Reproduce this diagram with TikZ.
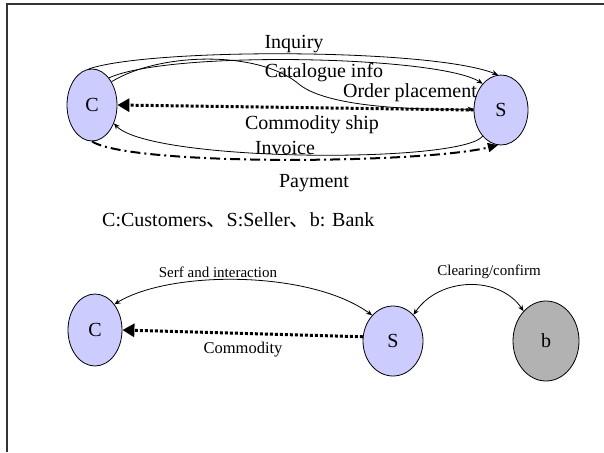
\documentclass[tikz,border=0pt]{standalone}
\usepackage{fontspec}
\setmainfont{Liberation Serif}
\newfontfamily\cjkfont{Noto Sans CJK SC}
\usetikzlibrary{shapes.geometric,arrows.meta}
\definecolor{lav}{HTML}{CCCCFF}
\definecolor{bankgray}{HTML}{B2B2B2}
\definecolor{framec}{HTML}{333333}
\tikzset{
  party/.style={ellipse,draw=black,line width=0.8pt,fill=lav,inner sep=0pt,
    font=\fontsize{20}{24}\selectfont},
  bank/.style={party,fill=bankgray},
  lbl/.style={inner sep=0pt,font=\fontsize{20}{24}\selectfont},
  slbl/.style={inner sep=0pt,font=\fontsize{15}{18}\selectfont},
  flow/.style={line width=0.8pt,-{Stealth[length=6pt,width=5pt]}},
  both/.style={line width=0.8pt,{Stealth[length=6pt,width=5pt]}-{Stealth[length=6pt,width=5pt]}},
  ship/.style={line width=3pt,dash pattern=on 3pt off 2pt,-{Triangle[length=12pt,width=13pt]}},
  pay/.style={line width=2pt,dash pattern=on 10pt off 4pt on 2pt off 4pt,-{Triangle[length=10pt,width=9pt]}}
}
\begin{document}
\begin{tikzpicture}[x=1pt,y=-1pt]
\useasboundingbox (0,0) rectangle (604,452);
% frame
\draw[framec,line width=1.5pt] (7,452) -- (7,4) -- (604,4);
% top diagram
\node[party,minimum width=50pt,minimum height=72pt] (C) at (92,105) {C};
\node[party,minimum width=54pt,minimum height=70pt] (S) at (501,110) {S};
\draw[flow] (C.95) .. controls (150,48) and (430,48) .. (S.95);
\draw[flow] (C.58) .. controls (170,50) and (440,56) .. (S.125);
\draw[flow] (C.50) .. controls (160,52) and (260,50) .. (300,85)
   .. controls (330,108) and (420,110) .. (S.178);
\draw[ship] (S.180) -- (C.0);
\draw[flow] (S.235) .. controls (460,164) and (150,162) .. (C.-40);
\draw[pay] (C.-90) .. controls (130,166) and (420,164) .. (S.-95);
\node[lbl] (l1) at (294,44) {Inquiry};
\node[lbl] (l2) at (324,73) {Catalogue info};
\node[lbl] (l3) at (410,93) {Order placement};
\node[lbl] (l4) at (312,125) {Commodity ship};
\node[lbl] (l5) at (285,148) {Invoice};
\node[lbl] (l6) at (314,183) {Payment};
\node[lbl,anchor=west] (leg) at (102,220) {C:Customers{\cjkfont 、}S:Seller{\cjkfont 、}b: Bank};
% bottom diagram
\node[party,minimum width=54pt,minimum height=72pt] (C2) at (95,330) {C};
\node[party,minimum width=60pt,minimum height=70pt] (S2) at (393,341) {S};
\node[bank,minimum width=66pt,minimum height=80pt] (B) at (546,341) {b};
\draw[both] (C2.53) .. controls (170,270) and (310,270) .. (S2.129);
\draw[both] (S2.52) .. controls (440,276) and (500,276) .. (B.127);
\draw[ship] (S2.172) -- (C2.0);
\node[slbl] (l7) at (218,272) {Serf and interaction};
\node[slbl] (l8) at (489,272) {Clearing/confirm};
\node[inner sep=0pt,font=\fontsize{16.5}{19}\selectfont] (l9) at (243,350) {Commodity};
\end{tikzpicture}
\end{document}
